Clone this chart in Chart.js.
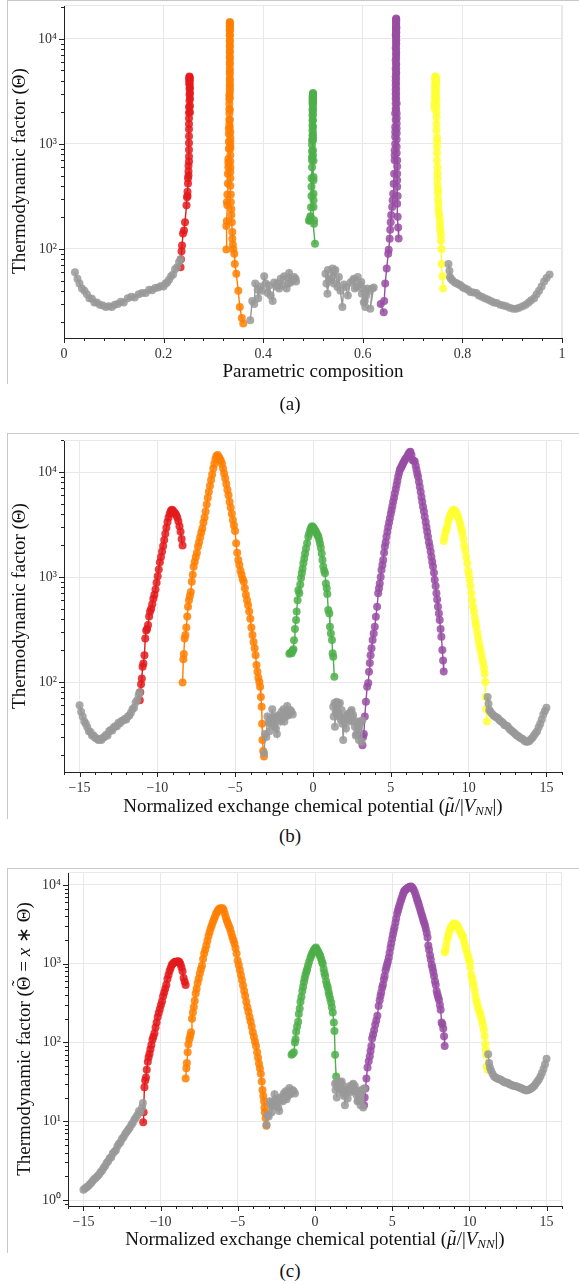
<!DOCTYPE html>
<html>
<head>
<meta charset="utf-8">
<title>Thermodynamic factor</title>
<script src="https://cdn.jsdelivr.net/npm/chart.js@4.4.1/dist/chart.umd.min.js"></script>
<style>
  body { margin: 0; background: #fff; }
  #page { position: relative; width: 579px; height: 1284px; overflow: hidden;
          font-family: "Liberation Serif", "Times New Roman", serif; color: #111; }
  .frame { position: absolute; left: 7px; width: 572px; box-sizing: border-box;
           border-left: 1px solid #c8c8c8; border-top: 1px solid #c8c8c8; }
  canvas { position: absolute; left: 0; }
  .lbl { position: absolute; white-space: nowrap; font-size: 19px; line-height: 1;
         transform: translate(-50%, -50%); }
  .ylbl { transform: translate(-50%, -50%) rotate(-90deg); }
  sub { font-size: 68%; vertical-align: -0.3em; line-height: 0; }
  .acc { position: relative; display: inline-block; }
  .acc::after { content: "\02DC"; position: absolute; left: 0; right: 0; text-align: center;
                font-style: normal; font-size: 0.95em; }
  .lo::after { top: -0.08em; left: 0.08em; }
  .up::after { top: -0.24em; }
</style>
</head>
<body>
<div id="page">
  <div class="frame" style="top:0;height:384px"></div>
  <div class="frame" style="top:433px;height:386px"></div>
  <div class="frame" style="top:868px;height:385px"></div>

  <canvas id="chartA" width="579" height="366" style="top:0"></canvas>
  <canvas id="chartB" width="579" height="380" style="top:420px"></canvas>
  <canvas id="chartC" width="579" height="374" style="top:860px"></canvas>

  <div class="lbl" style="left:313px;top:370px">Parametric composition</div>
  <div class="lbl ylbl" style="left:18px;top:171px">Thermodynamic factor (Θ)</div>
  <div class="lbl" style="left:290px;top:403px">(a)</div>

  <div class="lbl" style="left:313px;top:805px">Normalized exchange chemical potential (<i class="acc lo">μ</i>/|<i>V</i><sub><i>NN</i></sub>|)</div>
  <div class="lbl ylbl" style="left:18px;top:606px">Thermodynamic factor (Θ)</div>
  <div class="lbl" style="left:290px;top:835px">(b)</div>

  <div class="lbl" style="left:315px;top:1238px">Normalized exchange chemical potential (<i class="acc lo">μ</i>/|<i>V</i><sub><i>NN</i></sub>|)</div>
  <div class="lbl ylbl" style="left:23px;top:1039px">Thermodynamic factor (<span class="acc up">Θ</span> = <i>x</i> ∗ Θ)</div>
  <div class="lbl" style="left:290px;top:1270px">(c)</div>
</div>

<script>
'use strict';
// ---------------------- Data -----------------
// Mu = normalized exchange chemical potential, Comp = parametric composition,
// Theta = thermodynamic factor (panels a, b), Tilde = x * Theta (panel c)

// grey, dilute side
const grayLeftMu = [
  -15.0, -14.9, -14.8, -14.7, -14.6, -14.5, -14.4, -14.3, -14.2, -14.1,
  -14.0, -13.9, -13.8, -13.7, -13.6, -13.5, -13.4, -13.3, -13.2, -13.1,
  -13.0, -12.9, -12.8, -12.7, -12.6, -12.5, -12.4, -12.3, -12.2, -12.1,
  -12.0, -11.9, -11.8, -11.7, -11.6, -11.5, -11.4, -11.3, -11.2, -11.15];
const grayLeftComp = [
  0.022, 0.027, 0.031, 0.036, 0.041, 0.046, 0.051, 0.056, 0.061, 0.066,
  0.072, 0.078, 0.084, 0.09, 0.096, 0.102, 0.108, 0.114, 0.12, 0.128,
  0.135, 0.142, 0.15, 0.157, 0.164, 0.171, 0.177, 0.183, 0.189, 0.195,
  0.2, 0.204, 0.207, 0.211, 0.215, 0.219, 0.223, 0.227, 0.231, 0.234];
const grayLeftTheta = [
  60, 52, 47, 42, 40, 37, 34, 33.5, 31, 31,
  29.5, 29, 28, 28.5, 28, 29.5, 30, 31.5, 31, 34,
  35, 34.5, 37, 38, 38, 41, 40.5, 42.5, 43, 44.5,
  44, 47, 48, 51, 55, 57, 64, 67, 75, 80];
const grayLeftTilde = [
  1.35, 1.4, 1.45, 1.5, 1.58, 1.65, 1.75, 1.85, 1.9, 2.0,
  2.1, 2.25, 2.35, 2.55, 2.7, 2.95, 3.1, 3.4, 3.5, 3.9,
  4.1, 4.3, 4.8, 5.2, 5.4, 6.0, 6.3, 6.9, 7.3, 7.8,
  8.3, 9.0, 9.6, 10.5, 11.2, 12.0, 13.5, 13, 15, 17];

// red, x = 1/4
const redMu = [
  -11.13, -11.1, -11.05, -11.0, -10.95, -10.9, -10.83, -10.78, -10.72, -10.66,
  -10.6, -10.53, -10.47, -10.4, -10.33, -10.26, -10.19, -10.12, -10.05, -9.98,
  -9.91, -9.84, -9.77, -9.7, -9.63, -9.56, -9.49, -9.42, -9.35, -9.28,
  -9.21, -9.14, -9.07, -9.0, -8.93, -8.86, -8.79, -8.72, -8.65, -8.58,
  -8.51, -8.44, -8.38];
const redComp = [
  0.234, 0.235, 0.236, 0.237, 0.239, 0.241, 0.243, 0.246, 0.247, 0.248,
  0.248, 0.249, 0.249, 0.25, 0.25, 0.25, 0.251, 0.251, 0.251, 0.251,
  0.251, 0.251, 0.251, 0.251, 0.251, 0.251, 0.252, 0.252, 0.252, 0.252,
  0.252, 0.252, 0.252, 0.252, 0.252, 0.252, 0.252, 0.252, 0.253, 0.253,
  0.253, 0.253, 0.253];
const redTheta = [
  67, 80, 95, 108, 140, 150, 180, 260, 310, 320,
  350, 420, 470, 500, 550, 620, 680, 760, 880, 1020,
  1180, 1380, 1550, 1750, 1980, 2250, 2580, 2950, 3350, 3700,
  4000, 4250, 4380, 4300, 4150, 4050, 3900, 3700, 3400, 3050,
  2700, 2300, 2000];
const redTilde = [
  9.7, 13, 27, 33, 36, 45, 57, 65, 72, 82,
  93, 108, 118, 131, 155, 180, 210, 238, 266, 300,
  335, 385, 430, 480, 540, 640, 720, 810, 880, 960,
  1000, 1030, 1060, 1050, 1065, 1075, 1050, 990, 900, 800,
  660, 590, 535];

// orange, x = 1/3
const orangeMu = [
  -8.38, -8.33, -8.3, -8.25, -8.2, -8.14, -8.08, -8.03, -7.97, -7.91,
  -7.85, -7.79, -7.73, -7.67, -7.6, -7.53, -7.46, -7.39, -7.32, -7.25,
  -7.18, -7.11, -7.04, -6.97, -6.9, -6.83, -6.76, -6.69, -6.62, -6.55,
  -6.48, -6.41, -6.34, -6.27, -6.2, -6.13, -6.06, -5.99, -5.92, -5.85,
  -5.78, -5.71, -5.64, -5.57, -5.5, -5.43, -5.36, -5.29, -5.22, -5.15,
  -5.08, -5.01, -4.94, -4.87, -4.8, -4.73, -4.66, -4.59, -4.52, -4.45,
  -4.38, -4.31, -4.24, -4.17, -4.1, -4.03, -3.96, -3.89, -3.82, -3.75,
  -3.69, -3.63, -3.57, -3.51, -3.45, -3.4, -3.35, -3.3, -3.27, -3.25,
  -3.2, -3.15];
const orangeComp = [
  0.326, 0.326, 0.327, 0.328, 0.327, 0.328, 0.329, 0.329, 0.33, 0.33,
  0.33, 0.331, 0.331, 0.331, 0.331, 0.332, 0.332, 0.332, 0.332, 0.332,
  0.332, 0.332, 0.333, 0.333, 0.333, 0.333, 0.333, 0.333, 0.333, 0.333,
  0.333, 0.333, 0.333, 0.333, 0.333, 0.333, 0.333, 0.333, 0.333, 0.333,
  0.333, 0.333, 0.333, 0.333, 0.333, 0.333, 0.333, 0.333, 0.333, 0.333,
  0.333, 0.333, 0.333, 0.333, 0.333, 0.334, 0.334, 0.334, 0.334, 0.334,
  0.334, 0.334, 0.334, 0.334, 0.334, 0.334, 0.335, 0.335, 0.336, 0.336,
  0.337, 0.338, 0.338, 0.339, 0.34, 0.342, 0.343, 0.346, 0.35, 0.353,
  0.357, 0.36];
const orangeTheta = [
  99, 165, 185, 260, 280, 330, 420, 520, 600, 660,
  720, 900, 1050, 1250, 1400, 1550, 1700, 1950, 2150, 2400,
  2650, 2900, 3300, 3700, 4200, 4900, 5700, 6500, 7400, 8400,
  9500, 10800, 12000, 13300, 14200, 14500, 14000, 13400, 12800, 12000,
  10800, 9700, 8700, 7700, 6800, 6000, 5200, 4600, 4000, 3500,
  3100, 2750, 2100, 1700, 1450, 1300, 1150, 1050, 960, 900,
  780, 680, 600, 540, 470, 400, 330, 280, 240, 210,
  180, 145, 125, 110, 100, 90, 72, 58, 40, 28,
  22, 19.5];
const orangeTilde = [
  35, 47, 55, 75, 95, 110, 122, 135, 200, 240,
  282, 340, 420, 480, 570, 650, 750, 850, 950, 1150,
  1350, 1500, 1700, 1950, 2250, 2500, 2800, 3050, 3350, 3650,
  3950, 4300, 4550, 4800, 5000, 5050, 5000, 5050, 4800, 4350,
  3900, 3500, 3250, 3000, 2750, 2450, 2200, 2000, 1800, 1580,
  1350, 1100, 960, 830, 720, 620, 530, 450, 390, 330,
  280, 245, 211, 185, 160, 135, 118, 103, 90, 75,
  64, 54, 47, 40, 32, 25, 21, 18, 15, 13,
  11, 8.8];

// grey, between 1/3 and 1/2
const grayMid1Mu = [
  -3.14, -3.08, -3.0, -2.93, -2.86, -2.8, -2.74, -2.68, -2.62, -2.56,
  -2.5, -2.44, -2.38, -2.32, -2.26, -2.2, -2.14, -2.08, -2.02, -1.96,
  -1.9, -1.84, -1.78, -1.72, -1.66, -1.6, -1.54, -1.46, -1.38, -1.3];
const grayMid1Comp = [
  0.374, 0.378, 0.382, 0.384, 0.389, 0.39, 0.395, 0.398, 0.402, 0.405,
  0.409, 0.412, 0.415, 0.419, 0.422, 0.426, 0.429, 0.432, 0.435, 0.438,
  0.442, 0.447, 0.45, 0.451, 0.452, 0.455, 0.459, 0.462, 0.465, 0.466];
const grayMid1Theta = [
  21, 32, 30, 47, 41, 34, 44, 40, 55, 47,
  38, 45, 36, 32, 48, 44, 47, 42, 52, 45,
  55, 42, 47, 53, 59, 48, 50, 54, 52, 49];
const grayMid1Tilde = [
  9, 12, 11.5, 18, 16, 13, 17.5, 16, 22, 19,
  15.5, 18.5, 15, 13.5, 20, 18.5, 20, 18, 22.5, 19.5,
  24, 19, 21, 24, 26.5, 22, 23, 25, 24, 22.5];

// green, x = 1/2
const greenMu = [
  -1.52, -1.45, -1.37, -1.3, -1.26, -1.22, -1.16, -1.09, -1.05, -0.99,
  -0.94, -0.88, -0.82, -0.77, -0.72, -0.67, -0.62, -0.56, -0.51, -0.45,
  -0.38, -0.3, -0.24, -0.18, -0.12, -0.06, 0.0, 0.06, 0.13, 0.19,
  0.24, 0.3, 0.34, 0.4, 0.45, 0.5, 0.56, 0.61, 0.66, 0.72,
  0.77, 0.83, 0.88, 0.92, 0.98, 1.05, 1.09, 1.15, 1.22, 1.26,
  1.3, 1.37];
const greenComp = [
  0.492, 0.493, 0.494, 0.495, 0.495, 0.496, 0.497, 0.497, 0.497, 0.498,
  0.498, 0.498, 0.498, 0.498, 0.498, 0.499, 0.499, 0.499, 0.499, 0.499,
  0.499, 0.499, 0.499, 0.499, 0.5, 0.5, 0.5, 0.5, 0.5, 0.5,
  0.5, 0.5, 0.5, 0.5, 0.5, 0.5, 0.5, 0.5, 0.5, 0.5,
  0.5, 0.5, 0.5, 0.501, 0.501, 0.501, 0.501, 0.501, 0.501, 0.502,
  0.502, 0.504];
const greenTheta = [
  186, 190, 188, 200, 205, 250, 320, 390, 470, 600,
  750, 700, 850, 980, 1085, 1200, 1350, 1500, 1680, 1870,
  2100, 2420, 2600, 2800, 2950, 3050, 3000, 2900, 2800, 2700,
  2600, 2500, 2420, 2250, 2090, 1900, 1680, 1450, 1260, 1150,
  1085, 870, 780, 690, 485, 450, 336, 290, 251, 188,
  174, 112];
const greenTilde = [
  70, 72, 75, 100, 110, 137, 160, 183, 230, 270,
  330, 380, 450, 510, 580, 650, 720, 790, 850, 950,
  1060, 1180, 1270, 1360, 1430, 1500, 1560, 1610, 1520, 1440,
  1380, 1300, 1240, 1150, 1060, 1000, 860, 760, 700, 600,
  540, 500, 440, 400, 360, 320, 280, 240, 180, 140,
  70, 37];

// grey, between 1/2 and 2/3
const grayMid2Mu = [
  1.3, 1.33, 1.38, 1.41, 1.46, 1.52, 1.56, 1.62, 1.68, 1.73,
  1.78, 1.84, 1.89, 1.94, 2.0, 2.05, 2.12, 2.19, 2.26, 2.32,
  2.37, 2.43, 2.48, 2.53, 2.58, 2.64, 2.69, 2.75, 2.8, 2.85,
  2.9, 2.95, 3.01, 3.06, 3.12, 3.17];
const grayMid2Comp = [
  0.525, 0.527, 0.53, 0.529, 0.533, 0.539, 0.536, 0.542, 0.542, 0.545,
  0.549, 0.552, 0.555, 0.559, 0.562, 0.566, 0.57, 0.575, 0.58, 0.584,
  0.588, 0.582, 0.59, 0.594, 0.597, 0.6, 0.598, 0.602, 0.604, 0.607,
  0.609, 0.605, 0.612, 0.619, 0.615, 0.622];
const grayMid2Theta = [
  58, 47, 63, 37.5, 52, 65, 50, 62, 47, 63,
  43.5, 54, 40, 28, 46, 43.5, 36, 48, 50, 42,
  43.5, 52, 54, 46, 48.5, 42, 37.5, 31, 32, 36,
  42, 28, 40, 42, 27, 43];
const grayMid2Tilde = [
  30, 25, 31, 20, 27, 32, 26, 31, 25, 32,
  23, 28, 21, 16, 25, 24, 19.5, 26, 28, 23.5,
  24.5, 29, 30, 26, 28, 24, 21.5, 18, 18.5, 21,
  24.5, 16, 23.5, 25, 15, 26];

// purple, x = 2/3
const purpleMu = [
  3.18, 3.22, 3.27, 3.33, 3.4, 3.48, 3.55, 3.6, 3.65, 3.7,
  3.76, 3.83, 3.9, 3.97, 4.04, 4.12, 4.19, 4.24, 4.29, 4.35,
  4.4, 4.46, 4.51, 4.57, 4.62, 4.67, 4.72, 4.78, 4.83, 4.89,
  4.94, 5.0, 5.05, 5.1, 5.15, 5.21, 5.26, 5.32, 5.37, 5.42,
  5.47, 5.53, 5.58, 5.64, 5.69, 5.74, 5.79, 5.85, 5.9, 5.97,
  6.05, 6.11, 6.17, 6.22, 6.26, 6.33, 6.39, 6.47, 6.54, 6.6,
  6.65, 6.7, 6.75, 6.81, 6.86, 6.92, 6.97, 7.02, 7.07, 7.13,
  7.18, 7.24, 7.29, 7.34, 7.39, 7.45, 7.5, 7.56, 7.61, 7.66,
  7.71, 7.77, 7.82, 7.88, 7.93, 7.98, 8.03, 8.09, 8.14, 8.2,
  8.25, 8.31, 8.36, 8.4];
const purpleComp = [
  0.642, 0.636, 0.643, 0.645, 0.648, 0.651, 0.652, 0.654, 0.655, 0.656,
  0.657, 0.659, 0.66, 0.661, 0.662, 0.663, 0.664, 0.664, 0.664, 0.665,
  0.665, 0.665, 0.665, 0.666, 0.665, 0.666, 0.666, 0.666, 0.666, 0.666,
  0.666, 0.666, 0.666, 0.667, 0.666, 0.667, 0.666, 0.667, 0.667, 0.666,
  0.667, 0.667, 0.667, 0.666, 0.667, 0.667, 0.667, 0.667, 0.667, 0.667,
  0.667, 0.667, 0.667, 0.667, 0.667, 0.667, 0.667, 0.667, 0.667, 0.667,
  0.667, 0.667, 0.667, 0.667, 0.667, 0.667, 0.667, 0.667, 0.667, 0.667,
  0.667, 0.667, 0.667, 0.667, 0.668, 0.667, 0.668, 0.668, 0.668, 0.668,
  0.668, 0.668, 0.668, 0.668, 0.669, 0.669, 0.669, 0.669, 0.669, 0.67,
  0.669, 0.67, 0.671, 0.672];
const purpleTheta = [
  25, 30, 32, 47, 65, 90, 98, 125, 152, 180,
  210, 251, 290, 336, 418, 521, 700, 780, 870, 1000,
  1170, 1300, 1450, 1700, 1950, 2150, 2420, 2700, 3000, 3300,
  3630, 4000, 4350, 4750, 5200, 5700, 6270, 6900, 7510, 8200,
  9000, 9800, 10500, 10900, 11300, 11700, 12100, 12600, 13000, 13500,
  14000, 14600, 15100, 15400, 15600, 14500, 13000, 12800, 12600, 11500,
  10500, 9700, 9000, 8100, 7250, 6500, 5800, 5200, 4680, 4200,
  3760, 3350, 3000, 2700, 2420, 2150, 1950, 1750, 1560, 1400,
  1260, 1100, 940, 820, 700, 610, 521, 450, 390, 320,
  270, 202, 160, 126];
const purpleTilde = [
  16, 20, 26, 35, 48, 58, 67, 78, 90, 112,
  125, 143, 168, 190, 219, 290, 345, 390, 430, 495,
  540, 630, 700, 820, 900, 980, 1070, 1200, 1380, 1600,
  1800, 2080, 2350, 2620, 2900, 3320, 3750, 4300, 4700, 5100,
  5500, 6050, 6500, 7000, 7500, 8000, 8350, 8650, 8850, 9050,
  9250, 9400, 9500, 9550, 9450, 9100, 8700, 8000, 7300, 6700,
  6200, 5800, 5350, 4900, 4550, 4150, 3850, 3550, 3300, 3050,
  2750, 2450, 2150, 1700, 1500, 1280, 1130, 970, 880, 790,
  700, 600, 540, 450, 410, 375, 350, 300, 260, 180,
  170, 150, 120, 90];

// yellow, x = 3/4
const yellowMu = [
  8.4, 8.45, 8.5, 8.56, 8.61, 8.67, 8.73, 8.79, 8.85, 8.9,
  8.96, 9.01, 9.06, 9.12, 9.17, 9.22, 9.27, 9.32, 9.38, 9.44,
  9.5, 9.55, 9.6, 9.66, 9.72, 9.78, 9.85, 9.91, 9.97, 10.02,
  10.06, 10.12, 10.18, 10.23, 10.28, 10.34, 10.4, 10.45, 10.49, 10.55,
  10.6, 10.66, 10.71, 10.77, 10.83, 10.88, 10.94, 10.99, 11.03, 11.07,
  11.09, 11.13, 11.18];
const yellowComp = [
  0.744, 0.744, 0.745, 0.745, 0.745, 0.745, 0.745, 0.746, 0.746, 0.746,
  0.746, 0.746, 0.746, 0.746, 0.746, 0.747, 0.747, 0.747, 0.747, 0.747,
  0.747, 0.747, 0.748, 0.748, 0.748, 0.748, 0.748, 0.748, 0.749, 0.749,
  0.749, 0.749, 0.749, 0.75, 0.75, 0.75, 0.75, 0.751, 0.751, 0.751,
  0.752, 0.752, 0.753, 0.754, 0.755, 0.755, 0.756, 0.757, 0.757, 0.758,
  0.758, 0.76, 0.761];
const yellowTheta = [
  2200, 2400, 2650, 2800, 3000, 3300, 3550, 3800, 3950, 4100,
  4250, 4350, 4380, 4300, 4200, 4050, 3900, 3750, 3500, 3250,
  3000, 2800, 2600, 2300, 2000, 1800, 1550, 1350, 1150, 1050,
  940, 820, 700, 600, 525, 470, 410, 370, 340, 300,
  270, 240, 218, 200, 180, 162, 150, 135, 120, 100,
  72, 55, 42];
const yellowTilde = [
  1400, 1480, 1700, 1990, 2200, 2430, 2650, 2850, 3000, 3100,
  3200, 3240, 3200, 3170, 3120, 3050, 2900, 2750, 2600, 2480,
  2350, 2250, 2150, 1900, 1700, 1520, 1380, 1250, 1130, 1050,
  900, 730, 650, 583, 520, 457, 390, 340, 320, 285,
  265, 245, 228, 205, 185, 165, 145, 120, 96, 80,
  70, 50, 45];

// grey, concentrated side
const grayRightMu = [
  11.22, 11.28, 11.33, 11.4, 11.5, 11.6, 11.7, 11.8, 11.9, 12.0,
  12.1, 12.2, 12.3, 12.4, 12.5, 12.6, 12.7, 12.8, 12.9, 13.0,
  13.1, 13.2, 13.3, 13.4, 13.5, 13.6, 13.7, 13.8, 13.9, 14.0,
  14.1, 14.2, 14.3, 14.4, 14.5, 14.6, 14.7, 14.8, 14.9, 15.0];
const grayRightComp = [
  0.772, 0.774, 0.775, 0.777, 0.78, 0.785, 0.789, 0.793, 0.797, 0.801,
  0.806, 0.811, 0.816, 0.822, 0.828, 0.833, 0.839, 0.845, 0.851, 0.857,
  0.863, 0.869, 0.876, 0.882, 0.888, 0.895, 0.902, 0.908, 0.914, 0.921,
  0.927, 0.933, 0.938, 0.944, 0.949, 0.954, 0.959, 0.964, 0.969, 0.975];
const grayRightTheta = [
  72, 62, 54, 52, 50, 48, 47, 46, 45, 43,
  42, 41, 39, 38.5, 38, 36, 35, 34, 33, 32,
  31, 30.5, 29.5, 29, 28.5, 27.5, 27, 27, 27.5, 28.5,
  29.5, 31, 32.5, 34, 37, 40, 44, 49, 53, 57];
const grayRightTilde = [
  71, 55, 48, 44, 40, 37, 36, 35, 34.5, 34,
  33, 32, 31, 31, 30.5, 29.5, 29, 28.5, 28, 28,
  27.5, 27, 26.5, 26, 25.5, 25, 24.5, 25, 25.5, 26,
  27, 28, 30, 32, 34, 37, 41, 46, 53, 62];

// ---------------------- Tick labels -----------------
const compTicks = [0, 0.2, 0.4, 0.6, 0.8, 1];
const compTickLabels = ['0', '0.2', '0.4', '0.6', '0.8', '1'];
const muTicks = [-15, -10, -5, 0, 5, 10, 15];
const muTickLabels = ['\u221215', '\u221210', '\u22125', '0', '5', '10', '15'];
const logTickLabels = ['10\u2070', '10\u00b9', '10\u00b2', '10\u00b3', '10\u2074'];

// ---------------------- Styles -----------------
const GRID = '#e8e8e8';
const AXIS = '#222';
const colors = {
  gray: [153, 153, 153],
  red: [228, 26, 28],
  orange: [255, 127, 0],
  green: [77, 175, 74],
  purple: [152, 78, 163],
  yellow: [255, 255, 51]
};

function Segment(color, mu, comp, theta, tilde) {
  this.color = color;
  this.mu = mu;
  this.comp = comp;
  this.theta = theta;
  this.tilde = tilde;
}

// grey first so the coloured peaks sit on top
const segments = [
  new Segment('gray', grayLeftMu, grayLeftComp, grayLeftTheta, grayLeftTilde),
  new Segment('gray', grayMid1Mu, grayMid1Comp, grayMid1Theta, grayMid1Tilde),
  new Segment('gray', grayMid2Mu, grayMid2Comp, grayMid2Theta, grayMid2Tilde),
  new Segment('gray', grayRightMu, grayRightComp, grayRightTheta, grayRightTilde),
  new Segment('red', redMu, redComp, redTheta, redTilde),
  new Segment('orange', orangeMu, orangeComp, orangeTheta, orangeTilde),
  new Segment('green', greenMu, greenComp, greenTheta, greenTilde),
  new Segment('purple', purpleMu, purpleComp, purpleTheta, purpleTilde),
  new Segment('yellow', yellowMu, yellowComp, yellowTheta, yellowTilde)
];

// ---------------------- Helpers -----------------
function rgba(c, a) {
  return `rgba(${c[0]},${c[1]},${c[2]},${a})`;
}

function linearTicks(min, max, majors, step) {
  const ticks = [];
  const n = Math.round((max - min) / step);
  for (let i = 0; i <= n; i++) {
    const v = +(min + i * step).toFixed(6);
    ticks.push({ value: v, major: majors.some(m => Math.abs(m - v) < 1e-9) });
  }
  return ticks;
}

function logTicks(min, max) {
  const ticks = [];
  for (let e = Math.floor(Math.log10(min)); e <= Math.ceil(Math.log10(max)); e++) {
    for (let m = 1; m < 10; m++) {
      const v = m * Math.pow(10, e);
      if (v >= min && v <= max) {
        ticks.push({ value: v, major: m === 1 });
      }
    }
  }
  return ticks;
}

function makeDatasets(xKey, yKey) {
  return segments.map(seg => ({
    data: seg[xKey].map((x, i) => ({ x: x, y: seg[yKey][i] })),
    showLine: true,
    borderColor: rgba(colors[seg.color], 1),
    backgroundColor: rgba(colors[seg.color], 0.85),
    borderWidth: 1.4,
    pointRadius: 4,
    pointBorderWidth: 0,
    pointHoverRadius: 0
  }));
}

// outward tick marks (major longer than minor) and the light top/right frame
const axisDecor = {
  id: 'axisDecor',
  beforeDatasetsDraw(chart) {
    const a = chart.chartArea;
    const ctx = chart.ctx;
    ctx.save();
    ctx.strokeStyle = GRID;
    ctx.lineWidth = 1;
    ctx.beginPath();
    ctx.moveTo(a.left, a.top + 0.5);
    ctx.lineTo(a.right - 0.5, a.top + 0.5);
    ctx.lineTo(a.right - 0.5, a.bottom);
    ctx.stroke();
    ctx.restore();
  },
  afterDraw(chart) {
    const a = chart.chartArea;
    const ctx = chart.ctx;
    const xs = chart.scales.x;
    const ys = chart.scales.y;
    ctx.save();
    ctx.strokeStyle = AXIS;
    ctx.lineWidth = 1;
    ctx.beginPath();
    for (const t of xs.ticks) {
      const p = Math.round(xs.getPixelForValue(t.value)) + 0.5;
      ctx.moveTo(p, a.bottom);
      ctx.lineTo(p, a.bottom + (t.major ? 5 : 3));
    }
    for (const t of ys.ticks) {
      const p = Math.round(ys.getPixelForValue(t.value)) + 0.5;
      ctx.moveTo(a.left, p);
      ctx.lineTo(a.left - (t.major ? 5 : 3), p);
    }
    ctx.stroke();
    ctx.restore();
  }
};

function renderPanel(p) {
  const ctx = document.getElementById(p.id).getContext('2d');
  return new Chart(ctx, {
    type: 'scatter',
    data: { datasets: makeDatasets(p.xKey, p.yKey) },
    plugins: [axisDecor],
    options: {
      responsive: false,
      animation: false,
      events: [],
      layout: { padding: { top: p.padTop, right: 579 - p.right, left: 0, bottom: 0 } },
      plugins: { legend: { display: false }, tooltip: { enabled: false } },
      scales: {
        x: {
          type: 'linear',
          min: p.xMin,
          max: p.xMax,
          afterBuildTicks(scale) {
            scale.ticks = linearTicks(p.xMin, p.xMax, p.xTicks, p.xStep);
          },
          afterFit(scale) {
            scale.height = p.xHeight;
            scale.paddingLeft = 0;
            scale.paddingRight = 0;
          },
          ticks: {
            autoSkip: false,
            maxRotation: 0,
            padding: 8,
            color: '#333',
            font: { size: 14 },
            callback(value) {
              const i = p.xTicks.findIndex(m => Math.abs(m - value) < 1e-9);
              return i >= 0 ? p.xLabels[i] : '';
            }
          },
          grid: {
            drawTicks: false,
            color: c => (c.tick && c.tick.major ? GRID : 'rgba(0,0,0,0)')
          },
          border: { color: AXIS, width: 1 }
        },
        y: {
          type: 'logarithmic',
          min: p.yMin,
          max: p.yMax,
          afterBuildTicks(scale) {
            scale.ticks = logTicks(p.yMin, p.yMax);
          },
          afterFit(scale) {
            scale.width = p.left;
            scale.paddingTop = 0;
            scale.paddingBottom = 0;
          },
          ticks: {
            autoSkip: false,
            padding: 7,
            color: '#333',
            font: { size: 14 },
            callback(value) {
              const e = Math.round(Math.log10(value));
              return Math.abs(value - Math.pow(10, e)) < 1e-9 * value ? logTickLabels[e] : '';
            }
          },
          grid: {
            drawTicks: false,
            color: c => (c.tick && c.tick.major ? GRID : 'rgba(0,0,0,0)')
          },
          border: { color: AXIS, width: 1 }
        }
      }
    }
  });
}

// ---------------------- Panels -----------------
Chart.defaults.font.family = '"Liberation Serif", "Times New Roman", serif';

const panels = [
  { id: 'chartA', xKey: 'comp', yKey: 'theta', xMin: 0, xMax: 1, xTicks: compTicks,
    xLabels: compTickLabels, xStep: 0.04, yMin: 14.2, yMax: 21000,
    padTop: 5, left: 64, right: 562, xHeight: 28 },
  { id: 'chartB', xKey: 'mu', yKey: 'theta', xMin: -16, xMax: 16, xTicks: muTicks,
    xLabels: muTickLabels, xStep: 1, yMin: 13.9, yMax: 20200,
    padTop: 20, left: 64, right: 562, xHeight: 28 },
  { id: 'chartC', xKey: 'mu', yKey: 'tilde', xMin: -16, xMax: 16, xTicks: muTicks,
    xLabels: muTickLabels, xStep: 1, yMin: 0.84, yMax: 14600,
    padTop: 12, left: 68, right: 562, xHeight: 28 }
];

for (const p of panels) {
  renderPanel(p);
}
</script>
</body>
</html>
